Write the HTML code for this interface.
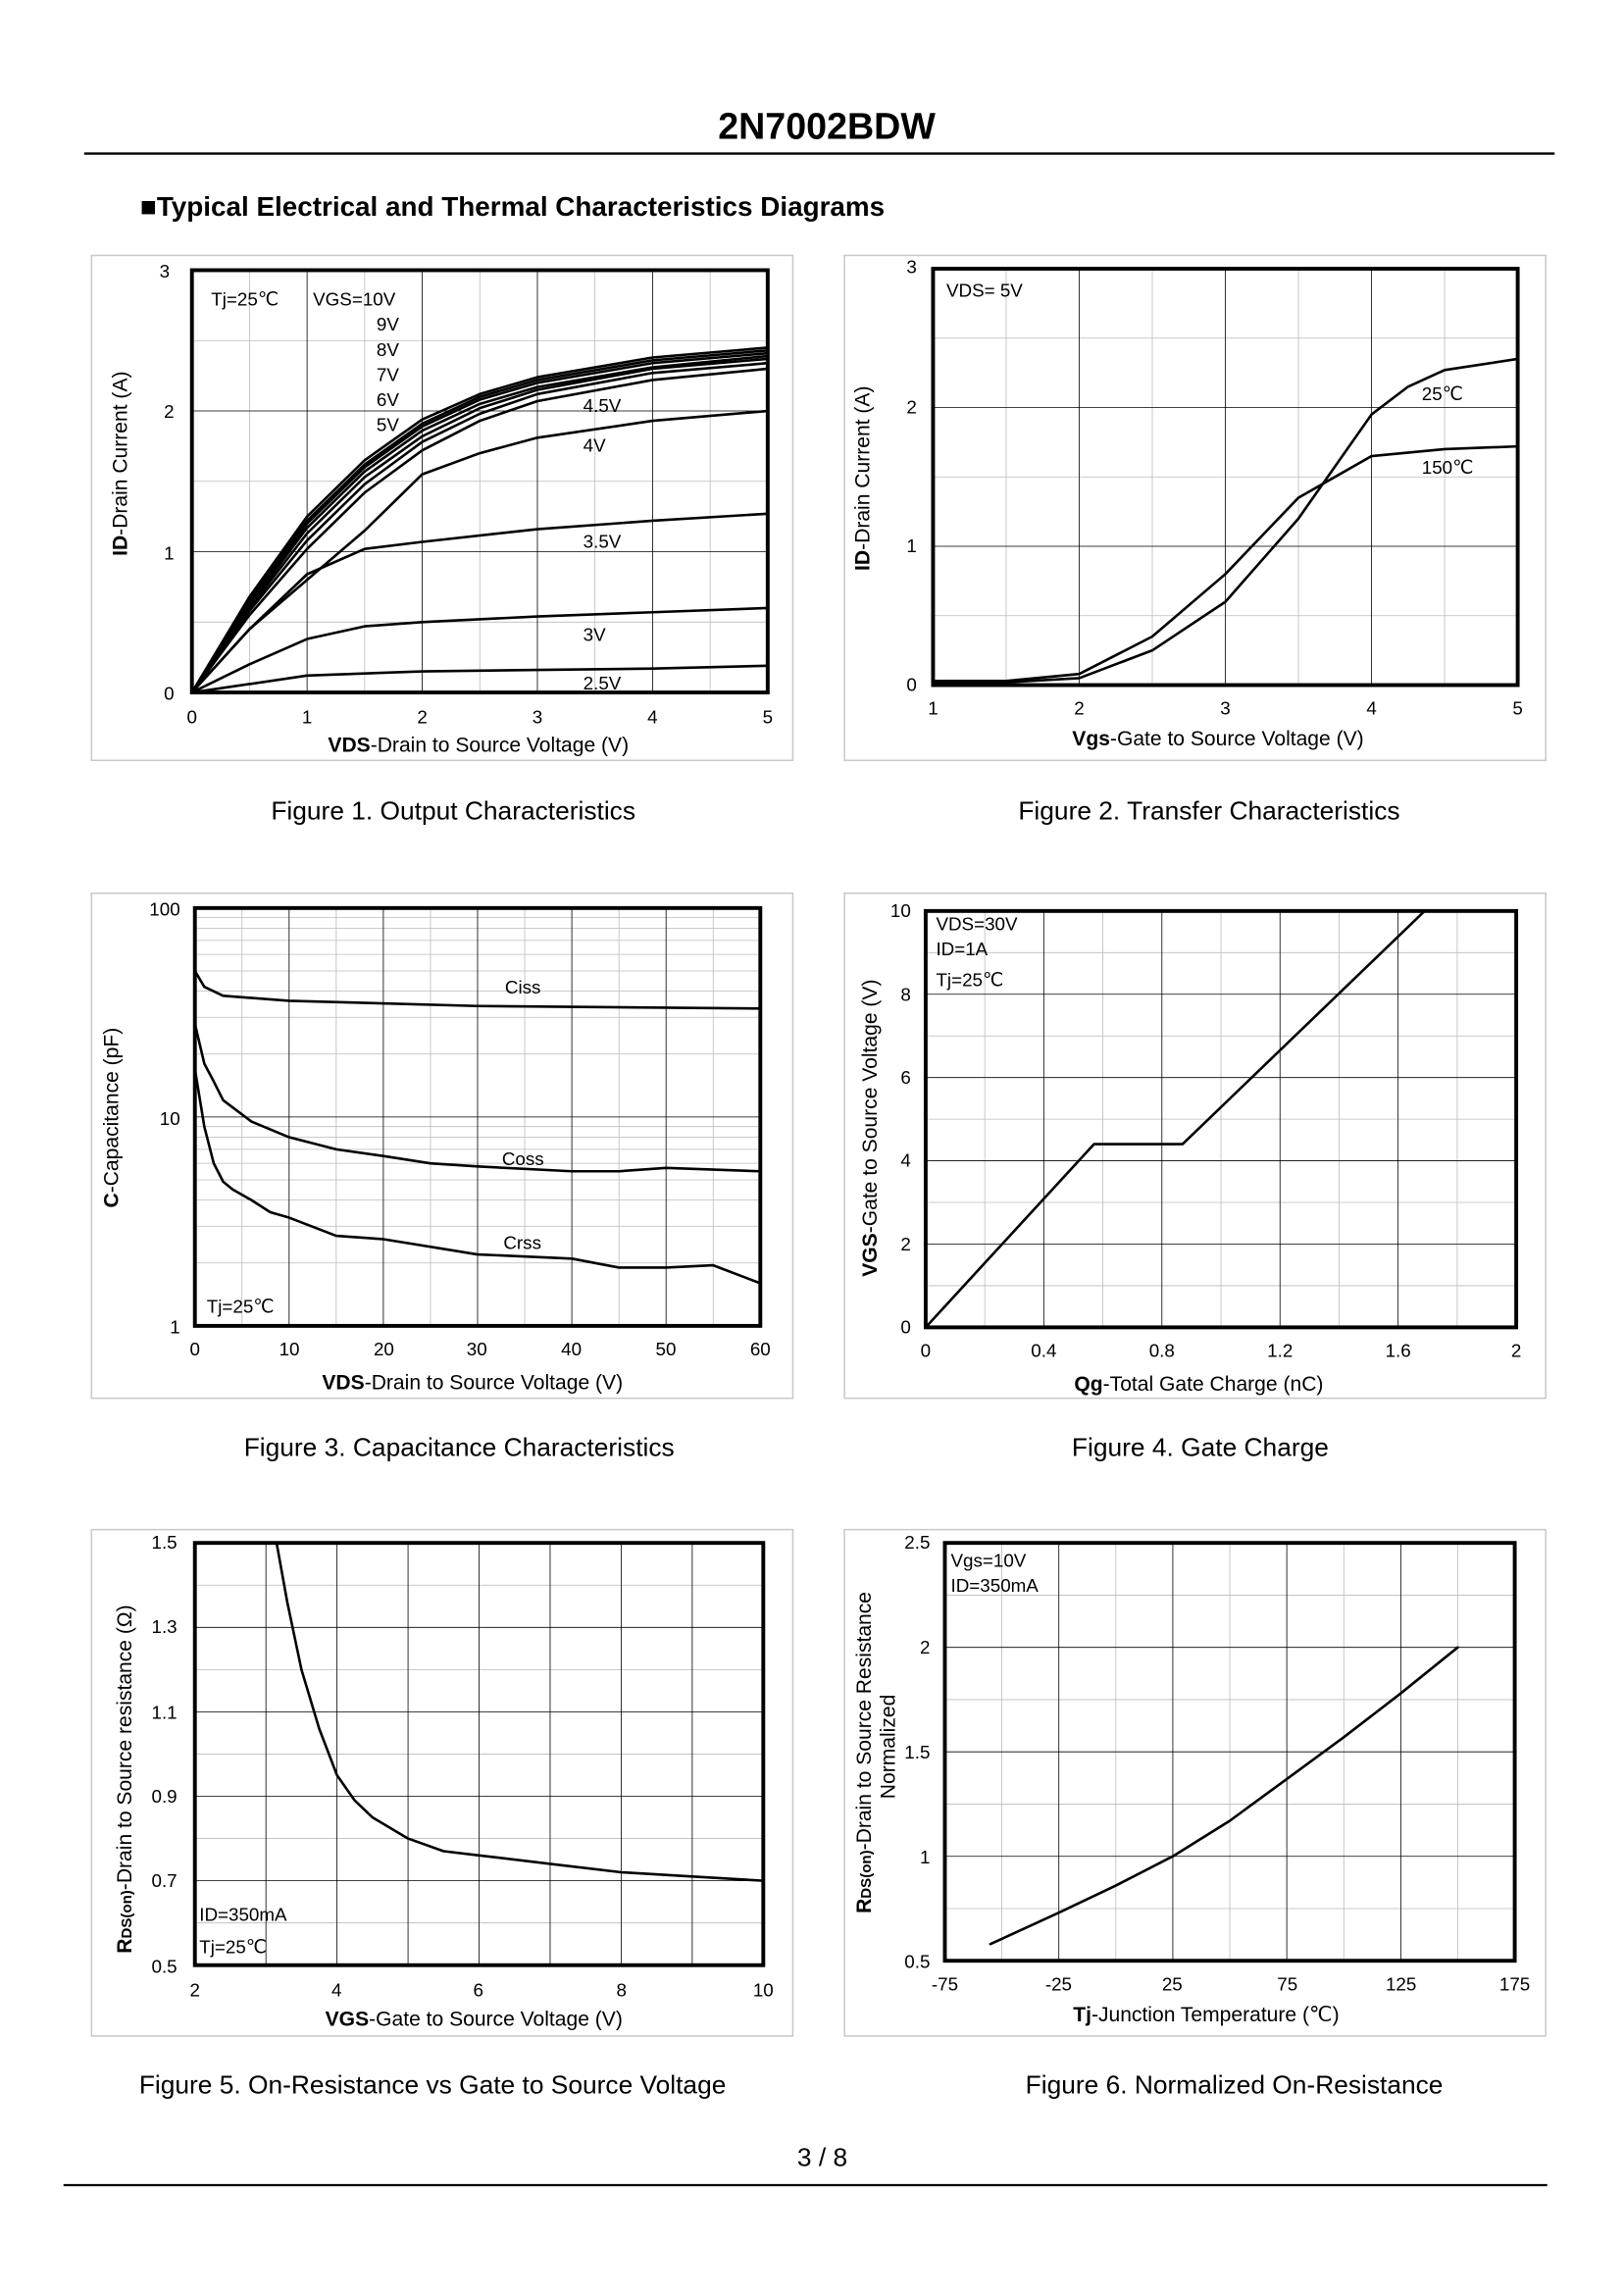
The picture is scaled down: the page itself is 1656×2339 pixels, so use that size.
<!DOCTYPE html>
<html><head><meta charset="utf-8"><style>
html,body{margin:0;padding:0;background:#fff}
svg{display:block}
text{font-family:"Liberation Sans",sans-serif;fill:#000}
.t{font-size:12.5px}
.a{font-size:14px}
.c{font-size:17.5px}
.f{fill:none;stroke:#c8c8c8;stroke-width:1}
.g{stroke:#bbb;stroke-width:.8;vector-effect:non-scaling-stroke}
.G{stroke:#000;stroke-width:.8;vector-effect:non-scaling-stroke}
.p{fill:none;stroke:#000;stroke-width:2.6;vector-effect:non-scaling-stroke;stroke-linejoin:round;stroke-linecap:round}
.b{fill:none;stroke:#000;stroke-width:2.6}
</style></head><body>
<svg width="1656" height="2339" viewBox="0 0 1100 1553.7" xmlns="http://www.w3.org/2000/svg">
<text x="560" y="94" text-anchor="middle" font-size="25" font-weight="bold">2N7002BDW</text>
<line x1="57" y1="104" x2="1053" y2="104" stroke="#000" stroke-width="1.5"/>
<text x="95" y="146" font-size="18.5" font-weight="bold">■Typical Electrical and Thermal Characteristics Diagrams</text>

<!-- frames -->
<rect class="f" x="62" y="173" width="475" height="342"/>
<rect class="f" x="572" y="173" width="475" height="342"/>
<rect class="f" x="62" y="605" width="475" height="342"/>
<rect class="f" x="572" y="605" width="475" height="342"/>
<rect class="f" x="62" y="1036" width="475" height="343"/>
<rect class="f" x="572" y="1036" width="475" height="343"/>

<!-- Chart 1 -->
<g transform="translate(130,469) scale(78,-95.33)">
<path class="g" d="M0.5,0V3M1.5,0V3M2.5,0V3M3.5,0V3M4.5,0V3M0,0.5H5M0,1.5H5M0,2.5H5"/>
<path class="G" d="M1,0V3M2,0V3M3,0V3M4,0V3M0,1H5M0,2H5"/>
<polyline class="p" points="0,0 .5,.68 1,1.25 1.5,1.65 2,1.94 2.5,2.12 3,2.24 4,2.38 5,2.45"/>
<polyline class="p" points="0,0 .5,.66 1,1.22 1.5,1.62 2,1.91 2.5,2.1 3,2.22 4,2.36 5,2.43"/>
<polyline class="p" points="0,0 .5,.64 1,1.2 1.5,1.6 2,1.89 2.5,2.08 3,2.2 4,2.34 5,2.41"/>
<polyline class="p" points="0,0 .5,.62 1,1.17 1.5,1.57 2,1.86 2.5,2.05 3,2.17 4,2.31 5,2.39"/>
<polyline class="p" points="0,0 .5,.6 1,1.13 1.5,1.53 2,1.82 2.5,2.02 3,2.15 4,2.3 5,2.37"/>
<polyline class="p" points="0,0 .5,.58 1,1.08 1.5,1.48 2,1.78 2.5,1.98 3,2.12 4,2.27 5,2.34"/>
<polyline class="p" points="0,0 .5,.55 1,1.02 1.5,1.42 2,1.72 2.5,1.93 3,2.07 4,2.22 5,2.3"/>
<polyline class="p" points="0,0 .5,.45 1,.8 1.5,1.15 2,1.55 2.5,1.7 3,1.81 4,1.93 5,2.0"/>
<polyline class="p" points="0,0 .5,.45 1,.84 1.5,1.02 2,1.07 3,1.16 4,1.22 5,1.27"/>
<polyline class="p" points="0,0 .5,.2 1,.38 1.5,.47 2,.5 3,.54 4,.57 5,.6"/>
<polyline class="p" points="0,0 1,.12 2,.15 3,.16 4,.17 5,.19"/>
</g>
<rect class="b" x="130" y="183" width="390" height="286"/>
<g class="t">
<text x="115" y="188" text-anchor="end">3</text><text x="118" y="283" text-anchor="end">2</text>
<text x="118" y="379" text-anchor="end">1</text><text x="118" y="474" text-anchor="end">0</text>
<text x="130" y="490" text-anchor="middle">0</text><text x="208" y="490" text-anchor="middle">1</text>
<text x="286" y="490" text-anchor="middle">2</text><text x="364" y="490" text-anchor="middle">3</text>
<text x="442" y="490" text-anchor="middle">4</text><text x="520" y="490" text-anchor="middle">5</text>
<text x="143" y="207">Tj=25℃</text><text x="212" y="207">VGS=10V</text>
<text x="255" y="224">9V</text><text x="255" y="241">8V</text><text x="255" y="258">7V</text>
<text x="255" y="275">6V</text><text x="255" y="292">5V</text>
<text x="395" y="279">4.5V</text><text x="395" y="306">4V</text>
<text x="395" y="371">3.5V</text><text x="395" y="434">3V</text><text x="395" y="467">2.5V</text>
</g>
<text class="a" x="324" y="509" text-anchor="middle"><tspan font-weight="bold">VDS</tspan>-Drain to Source Voltage (V)</text>
<text class="a" transform="translate(86,314) rotate(-90)" text-anchor="middle"><tspan font-weight="bold">ID</tspan>-Drain Current (A)</text>
<text class="c" x="307" y="555" text-anchor="middle">Figure 1.  Output Characteristics</text>

<!-- Chart 2 -->
<g transform="translate(632,464) scale(99,-94)">
<path class="g" d="M0.5,0V3M1.5,0V3M2.5,0V3M3.5,0V3M0,0.5H4M0,1.5H4M0,2.5H4"/>
<path class="G" d="M1,0V3M2,0V3M3,0V3M0,1H4M0,2H4"/>
<polyline class="p" points="0,.02 .5,.02 1,.05 1.5,.25 2,.6 2.5,1.2 3,1.95 3.25,2.15 3.5,2.27 4,2.35"/>
<polyline class="p" points="0,.03 .5,.03 1,.08 1.5,.35 2,.8 2.5,1.35 3,1.65 3.5,1.7 4,1.72"/>
</g>
<rect class="b" x="632" y="182" width="396" height="282"/>
<g class="t">
<text x="621" y="185" text-anchor="end">3</text><text x="621" y="280" text-anchor="end">2</text>
<text x="621" y="374" text-anchor="end">1</text><text x="621" y="468" text-anchor="end">0</text>
<text x="632" y="484" text-anchor="middle">1</text><text x="731" y="484" text-anchor="middle">2</text>
<text x="830" y="484" text-anchor="middle">3</text><text x="929" y="484" text-anchor="middle">4</text>
<text x="1028" y="484" text-anchor="middle">5</text>
<text x="641" y="201">VDS= 5V</text><text x="963" y="271">25℃</text><text x="963" y="321">150℃</text>
</g>
<text class="a" x="825" y="505" text-anchor="middle"><tspan font-weight="bold">Vgs</tspan>-Gate to Source Voltage (V)</text>
<text class="a" transform="translate(589,324) rotate(-90)" text-anchor="middle"><tspan font-weight="bold">ID</tspan>-Drain Current (A)</text>
<text class="c" x="819" y="555" text-anchor="middle">Figure 2.  Transfer Characteristics</text>

<!-- Chart 3 -->
<g transform="translate(132,898) scale(6.383,-141.5)">
<path class="g" d="M5,0V2M15,0V2M25,0V2M35,0V2M45,0V2M55,0V2M0,.301H60M0,.477H60M0,.602H60M0,.699H60M0,.778H60M0,.845H60M0,.903H60M0,.954H60M0,1.301H60M0,1.477H60M0,1.602H60M0,1.699H60M0,1.778H60M0,1.845H60M0,1.903H60M0,1.954H60"/>
<path class="G" d="M10,0V2M20,0V2M30,0V2M40,0V2M50,0V2M0,1H60"/>
<polyline class="p" points="0,1.699 1,1.623 3,1.58 10,1.556 30,1.531 60,1.519"/>
<polyline class="p" points="0,1.447 1,1.255 2,1.17 3,1.08 6,.978 10,.903 15,.845 20,.813 25,.778 30,.763 40,.74 45,.74 50,.756 60,.74"/>
<polyline class="p" points="0,1.23 1,.954 2,.778 3,.69 4,.653 6,.602 8,.544 10,.518 15,.431 20,.415 30,.342 40,.322 45,.279 50,.279 55,.29 60,.204"/>
</g>
<rect class="b" x="132" y="615" width="383" height="283"/>
<g class="t">
<text x="122" y="620" text-anchor="end">100</text><text x="122" y="762" text-anchor="end">10</text>
<text x="122" y="903" text-anchor="end">1</text>
<text x="132" y="918" text-anchor="middle">0</text><text x="196" y="918" text-anchor="middle">10</text>
<text x="260" y="918" text-anchor="middle">20</text><text x="323" y="918" text-anchor="middle">30</text>
<text x="387" y="918" text-anchor="middle">40</text><text x="451" y="918" text-anchor="middle">50</text>
<text x="515" y="918" text-anchor="middle">60</text>
<text x="342" y="673">Ciss</text><text x="340" y="789">Coss</text><text x="341" y="846">Crss</text>
<text x="140" y="889">Tj=25℃</text>
</g>
<text class="a" x="320" y="941" text-anchor="middle"><tspan font-weight="bold">VDS</tspan>-Drain to Source Voltage (V)</text>
<text class="a" transform="translate(80,757) rotate(-90)" text-anchor="middle"><tspan font-weight="bold">C</tspan>-Capacitance (pF)</text>
<text class="c" x="311" y="986" text-anchor="middle">Figure 3.  Capacitance Characteristics</text>

<!-- Chart 4 -->
<g transform="translate(627,899) scale(200,-28.2)">
<path class="g" d="M.2,0V10M.6,0V10M1,0V10M1.4,0V10M1.8,0V10M0,1H2M0,3H2M0,5H2M0,7H2M0,9H2"/>
<path class="G" d="M.4,0V10M.8,0V10M1.2,0V10M1.6,0V10M0,2H2M0,4H2M0,6H2M0,8H2"/>
<polyline class="p" points="0,0 .57,4.4 .87,4.4 1.69,10"/>
</g>
<rect class="b" x="627" y="617" width="400" height="282"/>
<g class="t">
<text x="617" y="621" text-anchor="end">10</text><text x="617" y="678" text-anchor="end">8</text>
<text x="617" y="734" text-anchor="end">6</text><text x="617" y="790" text-anchor="end">4</text>
<text x="617" y="847" text-anchor="end">2</text><text x="617" y="903" text-anchor="end">0</text>
<text x="627" y="919" text-anchor="middle">0</text><text x="707" y="919" text-anchor="middle">0.4</text>
<text x="787" y="919" text-anchor="middle">0.8</text><text x="867" y="919" text-anchor="middle">1.2</text>
<text x="947" y="919" text-anchor="middle">1.6</text><text x="1027" y="919" text-anchor="middle">2</text>
<text x="634" y="630">VDS=30V</text><text x="634" y="647">ID=1A</text><text x="634" y="668">Tj=25℃</text>
</g>
<text class="a" x="812" y="942" text-anchor="middle"><tspan font-weight="bold">Qg</tspan>-Total Gate Charge (nC)</text>
<text class="a" transform="translate(594,764) rotate(-90)" text-anchor="middle"><tspan font-weight="bold">VGS</tspan>-Gate to Source Voltage (V)</text>
<text class="c" x="813" y="986" text-anchor="middle">Figure 4.  Gate Charge</text>

<!-- Chart 5 -->
<g transform="translate(132,1331) scale(48.125,-286)">
<path class="g" d="M0,.1H8M0,.3H8M0,.5H8M0,.7H8M0,.9H8"/>
<path class="G" d="M1,0V1M2,0V1M3,0V1M4,0V1M5,0V1M6,0V1M7,0V1M0,.2H8M0,.4H8M0,.6H8M0,.8H8"/>
<polyline class="p" points="1.15,1 1.3,.86 1.5,.7 1.75,.56 2,.45 2.25,.39 2.5,.35 3,.3 3.5,.27 4,.26 5,.24 6,.22 7,.21 8,.2"/>
</g>
<rect class="b" x="132" y="1045" width="385" height="286"/>
<g class="t">
<text x="120" y="1049" text-anchor="end">1.5</text><text x="120" y="1106" text-anchor="end">1.3</text>
<text x="120" y="1164" text-anchor="end">1.1</text><text x="120" y="1221" text-anchor="end">0.9</text>
<text x="120" y="1278" text-anchor="end">0.7</text><text x="120" y="1336" text-anchor="end">0.5</text>
<text x="132" y="1352" text-anchor="middle">2</text><text x="228" y="1352" text-anchor="middle">4</text>
<text x="324" y="1352" text-anchor="middle">6</text><text x="421" y="1352" text-anchor="middle">8</text>
<text x="517" y="1352" text-anchor="middle">10</text>
<text x="135" y="1301">ID=350mA</text><text x="135" y="1323">Tj=25℃</text>
</g>
<text class="a" x="321" y="1372" text-anchor="middle"><tspan font-weight="bold">VGS</tspan>-Gate to Source Voltage (V)</text>
<text class="a" transform="translate(89,1205) rotate(-90)" text-anchor="middle"><tspan font-weight="bold">R<tspan font-size="10">DS(on)</tspan></tspan>-Drain to Source resistance (Ω)</text>
<text class="c" x="293" y="1418" text-anchor="middle">Figure 5.  On-Resistance vs Gate to Source Voltage</text>

<!-- Chart 6 -->
<g transform="translate(640,1328) scale(1.544,-141.5)">
<path class="g" d="M-50,.5V2.5M0,.5V2.5M50,.5V2.5M100,.5V2.5M150,.5V2.5M-75,.75H175M-75,1.25H175M-75,1.75H175M-75,2.25H175" transform="translate(75,-0.5)"/>
<path class="G" d="M-25,.5V2.5M25,.5V2.5M75,.5V2.5M125,.5V2.5M-75,1H175M-75,1.5H175M-75,2H175" transform="translate(75,-0.5)"/>
<polyline class="p" transform="translate(75,-0.5)" points="-55,.58 -25,.73 0,.86 25,1 50,1.17 75,1.37 100,1.57 125,1.78 150,2"/>
</g>
<rect class="b" x="640" y="1045" width="386" height="283"/>
<g class="t">
<text x="630" y="1049" text-anchor="end">2.5</text><text x="630" y="1120" text-anchor="end">2</text>
<text x="630" y="1191" text-anchor="end">1.5</text><text x="630" y="1262" text-anchor="end">1</text>
<text x="630" y="1333" text-anchor="end">0.5</text>
<text x="640" y="1348" text-anchor="middle">-75</text><text x="717" y="1348" text-anchor="middle">-25</text>
<text x="794" y="1348" text-anchor="middle">25</text><text x="872" y="1348" text-anchor="middle">75</text>
<text x="949" y="1348" text-anchor="middle">125</text><text x="1026" y="1348" text-anchor="middle">175</text>
<text x="644" y="1061">Vgs=10V</text><text x="644" y="1078">ID=350mA</text>
</g>
<text class="a" x="817" y="1369" text-anchor="middle"><tspan font-weight="bold">Tj</tspan>-Junction Temperature (℃)</text>
<text class="a" transform="translate(590,1187) rotate(-90)" text-anchor="middle"><tspan font-weight="bold">R<tspan font-size="10">DS(on)</tspan></tspan>-Drain to Source Resistance</text>
<text class="a" transform="translate(606,1183) rotate(-90)" text-anchor="middle">Normalized</text>
<text class="c" x="836" y="1418" text-anchor="middle">Figure 6.  Normalized On-Resistance</text>

<text x="557" y="1467" text-anchor="middle" font-size="17.5">3 / 8</text>
<line x1="43" y1="1480" x2="1048" y2="1480" stroke="#000" stroke-width="1.5"/>
</svg>
</body></html>
